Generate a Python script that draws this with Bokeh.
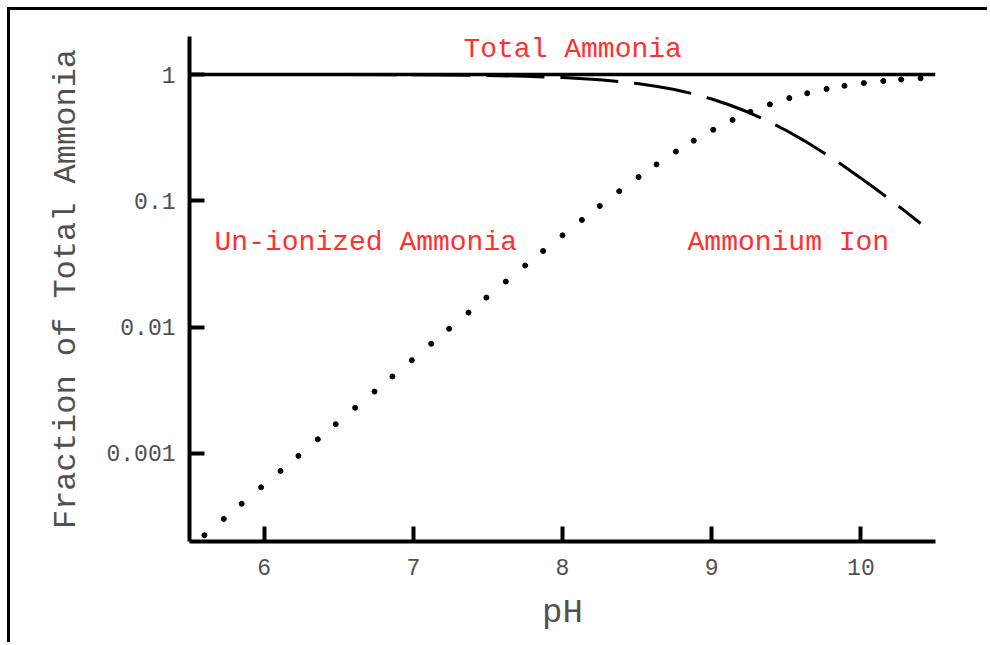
from bokeh.plotting import figure
from bokeh.models import Range1d, FixedTicker
from bokeh.core.properties import value
from bokeh.embed import file_html
from bokeh.resources import INLINE

# ---- data ----
x_ticks = [6, 7, 8, 9, 10]
y_ticks = [0.001, 0.01, 0.1, 1]
y_tick_labels = ["0.001", "0.01", "0.1", "1"]

# total ammonia (flat line at 1)
total_ph = [5.5, 10.5]
total_frac = [1.0, 1.0]

# un-ionized ammonia (dotted)
nh3_ph = [5.60, 5.73, 5.85, 5.98, 6.11, 6.23, 6.36, 6.48, 6.61, 6.74,
          6.86, 6.99, 7.12, 7.24, 7.37, 7.49, 7.62, 7.75, 7.87, 8.00,
          8.13, 8.25, 8.38, 8.51, 8.63, 8.76, 8.88, 9.01, 9.14, 9.26,
          9.39, 9.52, 9.64, 9.77, 9.89, 10.02, 10.15, 10.27, 10.40]
nh3_frac = [2.24e-4, 3.02e-4, 3.98e-4, 5.37e-4, 7.24e-4, 9.54e-4, 1.29e-3, 1.70e-3, 2.29e-3, 3.08e-3,
            4.06e-3, 5.46e-3, 7.36e-3, 9.68e-3, 1.30e-2, 1.71e-2, 2.29e-2, 3.07e-2, 4.00e-2, 5.32e-2,
            7.05e-2, 9.09e-2, 0.119, 0.154, 0.194, 0.245, 0.299, 0.365, 0.437, 0.506,
            0.580, 0.651, 0.711, 0.768, 0.814, 0.855, 0.888, 0.913, 0.934]

# ammonium ion (dashed)
nh4_ph = [5.6, 6.0, 6.5, 7.0, 7.5, 7.75, 8.0, 8.25, 8.5, 8.625, 8.75, 8.875,
          9.0, 9.125, 9.25, 9.375, 9.5, 9.625, 9.75, 9.875, 10.0, 10.1, 10.2, 10.3, 10.4]
nh4_frac = [0.9998, 0.9994, 0.998, 0.9944, 0.9826, 0.9693, 0.9468, 0.909, 0.849, 0.808, 0.760, 0.703,
            0.640, 0.571, 0.500, 0.429, 0.360, 0.297, 0.240, 0.192, 0.151, 0.124, 0.101, 0.082, 0.066]

label_texts = ["Total Ammonia", "Un-ionized Ammonia", "Ammonium Ion"]

FONT = "Liberation Mono"
RED = "#ff3030"
GRAY = "#505050"

p = figure(frame_width=746, frame_height=505,
           min_border_left=179, min_border_right=52, min_border_top=26, min_border_bottom=101,
           x_range=Range1d(5.5, 10.5), y_range=Range1d(2e-4, 2.0), y_axis_type="log",
           output_backend="svg", toolbar_location=None, background_fill_color="white",
           border_fill_color="white")
p.styles = {"border-top": "3px solid black", "border-left": "3px solid black",
            "margin-top": "7px", "margin-left": "7px"}
p.outline_line_color = None
p.xgrid.visible = False
p.ygrid.visible = False

p.line(total_ph, total_frac, line_color="black", line_width=3.5)
p.line(nh4_ph, nh4_frac, line_color="black", line_width=3, line_dash="58 16", line_dash_offset=14)
p.scatter(nh3_ph, nh3_frac, marker="circle", size=5, color="black")

p.text(x=[7.336], y=[1.574], text=[label_texts[0]], text_font=value(FONT), text_font_size="28px",
       text_color=RED, text_align="left", text_baseline="alphabetic")
p.text(x=[5.668], y=[0.0464], text=[label_texts[1]], text_font=value(FONT), text_font_size="28px",
       text_color=RED, text_align="left", text_baseline="alphabetic")
p.text(x=[8.838], y=[0.0464], text=[label_texts[2]], text_font=value(FONT), text_font_size="28px",
       text_color=RED, text_align="left", text_baseline="alphabetic")

for ax in (p.xaxis[0], p.yaxis[0]):
    ax.axis_line_width = 4
    ax.axis_line_color = "black"
    ax.major_tick_in = 15
    ax.major_tick_out = 0
    ax.major_tick_line_width = 4
    ax.major_tick_line_color = "black"
    ax.minor_tick_line_color = None
    ax.major_label_text_font = FONT
    ax.major_label_text_font_size = "23px"
    ax.major_label_text_color = GRAY
    ax.axis_label_text_font = FONT
    ax.axis_label_text_font_style = "normal"
    ax.axis_label_text_color = GRAY

p.xaxis.major_label_standoff = 17
p.yaxis.major_label_standoff = 14
p.xaxis.ticker = FixedTicker(ticks=x_ticks, minor_ticks=[])
p.yaxis.ticker = FixedTicker(ticks=y_ticks, minor_ticks=[])
p.yaxis.major_label_overrides = {t: l for t, l in zip(y_ticks, y_tick_labels)}
p.xaxis.axis_label = "pH"
p.xaxis.axis_label_text_font_size = "34px"
p.xaxis.axis_label_standoff = 16
p.yaxis.axis_label = "Fraction of Total Ammonia"
p.yaxis.axis_label_text_font_size = "32px"
p.yaxis.axis_label_standoff = 18

open("out.html", "w").write(file_html(p, INLINE))
